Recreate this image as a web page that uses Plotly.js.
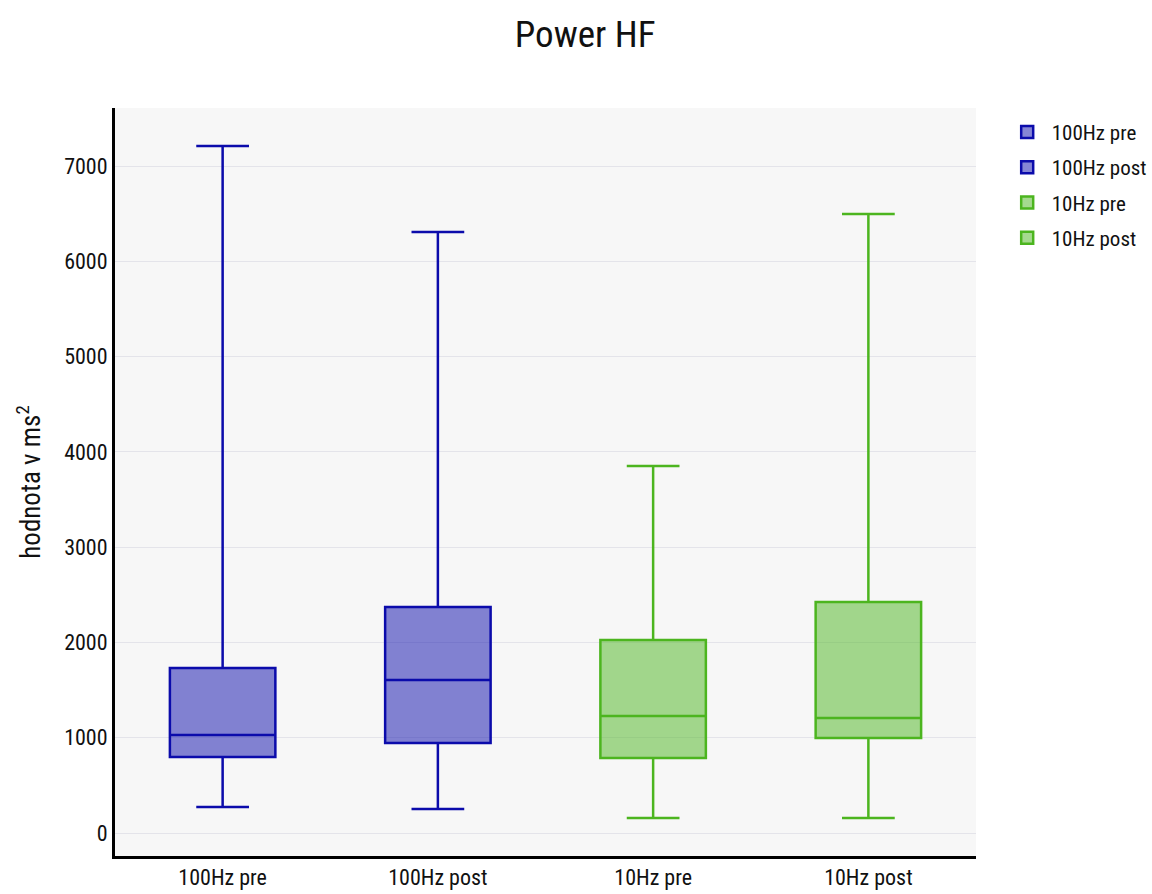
<!DOCTYPE html>
<html>
<head>
<meta charset="utf-8">
<script src="https://cdn.plot.ly/plotly-3.0.1.min.js"></script>
<style>
  html, body { margin: 0; padding: 0; background: #ffffff; }
  #chart { width: 1152px; height: 894px; }
  /* narrow letterforms for every label in the figure */
  #chart svg text { font-stretch: 75% !important; }
</style>
</head>
<body>
<div id="chart"></div>
<script>
// Power HF box summaries per measurement group (ms²)
const groups = ["100Hz pre", "100Hz post", "10Hz pre", "10Hz post"];
const lowerWhisker = [273, 252, 157, 157];
const q1Values = [797, 944, 787, 997];
const medianValues = [1028, 1606, 1228, 1207];
const q3Values = [1732, 2372, 2025, 2424];
const upperWhisker = [7210, 6307, 3851, 6496];
const lineColors = ["#0b0bab", "#0b0bab", "#4cb51f", "#4cb51f"];

const FONT = "'Liberation Sans Narrow', 'Roboto Condensed', 'Open Sans', 'Noto Sans', 'DejaVu Sans Condensed', sans-serif";

const traces = groups.map((g, i) => ({
  type: "box",
  name: g,
  legendgroup: g,
  x: [g],
  q1: [q1Values[i]],
  median: [medianValues[i]],
  q3: [q3Values[i]],
  lowerfence: [lowerWhisker[i]],
  upperfence: [upperWhisker[i]],
  boxpoints: false,
  width: 0.49,
  whiskerwidth: 0.5,
  line: { color: lineColors[i], width: 2.5 },
  hoverinfo: "y"
}));

const layout = {
  width: 1152,
  height: 894,
  paper_bgcolor: "#ffffff",
  plot_bgcolor: "#f7f7f7",
  margin: { l: 115, r: 176, t: 108, b: 38, autoexpand: false },
  font: { family: FONT, size: 22, color: "#111111" },
  title: {
    text: "Power HF",
    font: { family: FONT, size: 37, color: "#111111" },
    x: 0.508, xref: "container", xanchor: "center",
    y: 0.962, yref: "container", yanchor: "middle"
  },
  boxmode: "overlay",
  showlegend: true,
  legend: {
    x: 1.031, xanchor: "left", y: 0.995, yanchor: "top",
    font: { family: FONT, size: 21, color: "#111111" },
    bgcolor: "rgba(0,0,0,0)",
    itemwidth: 39,
    tracegroupgap: 5
  },
  xaxis: {
    type: "category",
    categoryorder: "array",
    categoryarray: groups,
    range: [-0.5, 3.5],
    showline: true, linecolor: "#000000", linewidth: 3,
    showgrid: false, zeroline: false,
    ticks: "", tickfont: { family: FONT, size: 22, color: "#111111" }
  },
  yaxis: {
    range: [-241, 7609],
    tickvals: [0, 1000, 2000, 3000, 4000, 5000, 6000, 7000],
    showline: true, linecolor: "#000000", linewidth: 3,
    showgrid: true, gridcolor: "#e4e4ea", gridwidth: 1,
    zeroline: false,
    ticks: "", ticklen: 0,
    tickfont: { family: FONT, size: 22, color: "#111111" },
    title: {
      text: "hodnota v ms<sup>2</sup>",
      font: { family: FONT, size: 27, color: "#111111" },
      standoff: 16
    }
  }
};

Plotly.newPlot("chart", traces, layout, { displayModeBar: false, staticPlot: true });
</script>
</body>
</html>
